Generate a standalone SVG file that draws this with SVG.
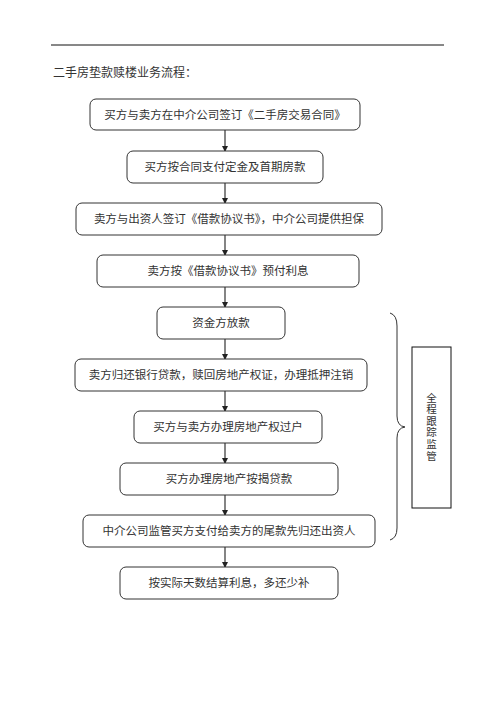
<svg xmlns="http://www.w3.org/2000/svg" width="496" height="702" viewBox="0 0 496 702">
<style>
.box{fill:#fff;stroke:#333;stroke-width:1}
.t{font-family:"Liberation Serif","Noto Sans CJK SC",serif;font-size:11.5px;fill:#333;text-anchor:middle;dominant-baseline:central}
.v{font-family:"Liberation Serif","Noto Sans CJK SC",serif;font-size:10.5px;fill:#333;text-anchor:middle;dominant-baseline:central}
.c{stroke:#333;stroke-width:1.2;fill:none}
</style>
<defs>
<marker id="ah" markerWidth="6" markerHeight="6" refX="5" refY="3" orient="auto" markerUnits="userSpaceOnUse">
<path d="M0,0 L6,3 L0,6 Z" fill="#222"/>
</marker>
</defs>
<rect width="496" height="702" fill="#fff"/>
<line x1="51" y1="45" x2="444" y2="45" stroke="#111" stroke-width="1"/>
<text x="53" y="73" font-family="Liberation Serif,'Noto Sans CJK SC',serif" font-size="12" fill="#333" dominant-baseline="central">二手房垫款赎楼业务流程：</text>
<g id="connectors">
<line class="c" x1="225" y1="130" x2="225" y2="151" marker-end="url(#ah)"/>
<line class="c" x1="225" y1="183" x2="225" y2="203" marker-end="url(#ah)"/>
<line class="c" x1="225" y1="235" x2="225" y2="255" marker-end="url(#ah)"/>
<line class="c" x1="225" y1="287" x2="225" y2="307" marker-end="url(#ah)"/>
<line class="c" x1="225" y1="339" x2="225" y2="359" marker-end="url(#ah)"/>
<line class="c" x1="225" y1="391" x2="225" y2="411" marker-end="url(#ah)"/>
<line class="c" x1="225" y1="443" x2="225" y2="463" marker-end="url(#ah)"/>
<line class="c" x1="225" y1="495" x2="225" y2="515" marker-end="url(#ah)"/>
<line class="c" x1="225" y1="547" x2="225" y2="567" marker-end="url(#ah)"/>
</g>
<g id="n1"><rect class="box" x="90" y="99" width="270" height="31" rx="6"/><text class="t" x="225" y="115">买方与卖方在中介公司签订《二手房交易合同》</text></g>
<g id="n2"><rect class="box" x="127" y="151" width="196" height="32" rx="6"/><text class="t" x="225" y="167">买方按合同支付定金及首期房款</text></g>
<g id="n3"><rect class="box" x="76" y="203" width="306" height="32" rx="6"/><text class="t" x="229" y="219">卖方与出资人签订《借款协议书》，中介公司提供担保</text></g>
<g id="n4"><rect class="box" x="97" y="255" width="262" height="32" rx="6"/><text class="t" x="228" y="271">卖方按《借款协议书》预付利息</text></g>
<g id="n5"><rect class="box" x="157" y="307" width="128" height="32" rx="6"/><text class="t" x="221" y="323">资金方放款</text></g>
<g id="n6"><rect class="box" x="75" y="359" width="292" height="32" rx="6"/><text class="t" x="221" y="375">卖方归还银行贷款，赎回房地产权证，办理抵押注销</text></g>
<g id="n7"><rect class="box" x="134" y="411" width="188" height="32" rx="6"/><text class="t" x="228" y="427">买方与卖方办理房地产权过户</text></g>
<g id="n8"><rect class="box" x="120" y="463" width="218" height="32" rx="6"/><text class="t" x="229" y="479">买方办理房地产按揭贷款</text></g>
<g id="n9"><rect class="box" x="83" y="515" width="292" height="32" rx="6"/><text class="t" x="229" y="531">中介公司监管买方支付给卖方的尾款先归还出资人</text></g>
<g id="n10"><rect class="box" x="120" y="567" width="218" height="32" rx="6"/><text class="t" x="229" y="583">按实际天数结算利息，多还少补</text></g>
<g id="brace"><path d="M390,313 Q397,315 397,326 L397,416 Q397,426 405,427 Q397,428 397,438 L397,528 Q397,538 390,540" fill="none" stroke="#333" stroke-width="1"/></g>
<g id="side"><rect x="412" y="347" width="39" height="161" fill="#fff" stroke="#111" stroke-width="1"/>
<text class="v" x="431.5" y="398">全</text>
<text class="v" x="431.5" y="409.6">程</text>
<text class="v" x="431.5" y="421.2">跟</text>
<text class="v" x="431.5" y="432.8">踪</text>
<text class="v" x="431.5" y="444.4">监</text>
<text class="v" x="431.5" y="456">管</text>
</g>
</svg>
